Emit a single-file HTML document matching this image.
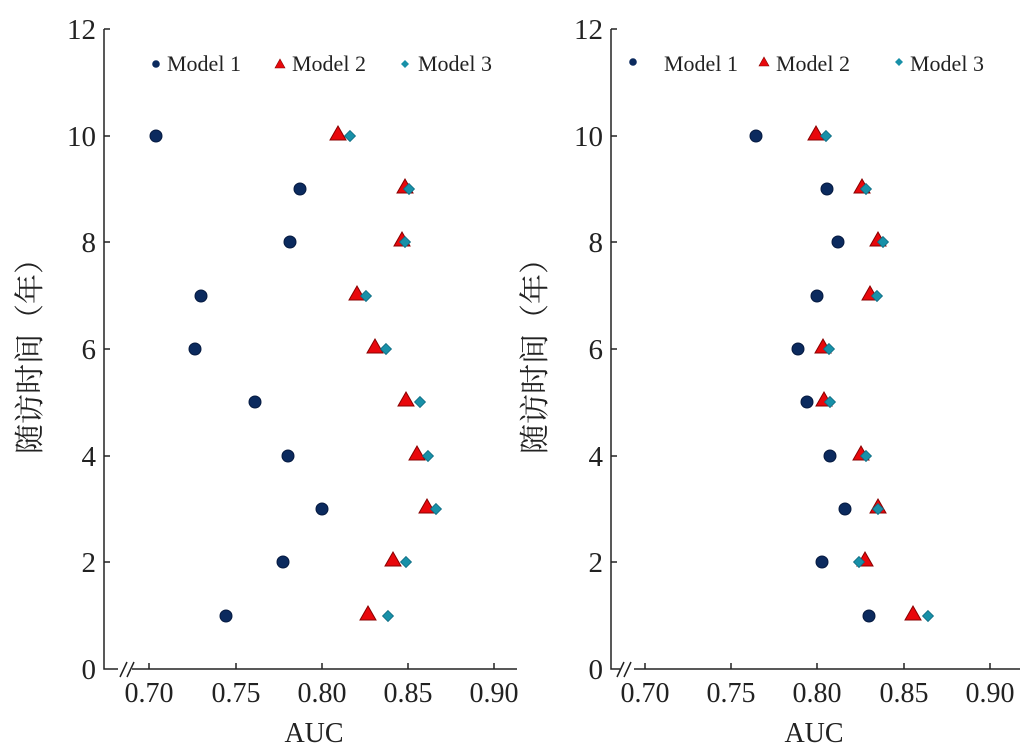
<!DOCTYPE html><html><head><meta charset="utf-8"><style>body{margin:0;background:#fff}svg{display:block}text{font-family:"Liberation Serif","Noto Serif CJK SC",serif;fill:#222}</style></head><body>
<svg width="1036" height="752" viewBox="0 0 1036 752">
<defs>
<g id="c"><circle r="6" fill="#0b2a5e" stroke="#061a40" stroke-width="1"/></g>
<g id="t"><polygon points="0,-8 8,6 -8,6" fill="#e8080c" stroke="#8a0000" stroke-width="1"/></g>
<g id="d"><polygon points="0,-5.5 5.5,0 0,5.5 -5.5,0" fill="#1890a8" stroke="#0e6a80" stroke-width="0.8"/></g>
<g id="cs"><circle r="3.8" fill="#0b2a5e"/></g>
<g id="ts"><polygon points="0,-5 5,4 -5,4" fill="#e8080c" stroke="#8a0000" stroke-width="0.6"/></g>
<g id="ds"><polygon points="0,-4 4,0 0,4 -4,0" fill="#1890a8"/></g>
</defs>
<g stroke="#222" stroke-width="1.5" fill="none">
<path d="M104,29 V669 H517"/>
<path d="M611,29 V669 H1020"/>
<path d="M104,29h6M104,136h6M104,242h6M104,349h6M104,456h6M104,562h6"/>
<path d="M611,29h6M611,136h6M611,242h6M611,349h6M611,456h6M611,562h6"/>
<path d="M149,669v-6M236,669v-6M322,669v-6M408,669v-6M494,669v-6"/>
<path d="M645,669v-6M731,669v-6M817,669v-6M904,669v-6M990,669v-6"/>
</g>
<g fill="#fff" stroke="none"><rect x="118" y="664" width="14" height="10"/><rect x="620" y="664" width="14" height="10"/></g>
<g stroke="#222" stroke-width="1.5"><path d="M120,677l7,-15M127,677l7,-15M617,677l7,-15M624,677l7,-15"/></g>
<g font-size="29" text-anchor="end">
<text x="96" y="39">12</text><text x="96" y="146">10</text><text x="96" y="252">8</text><text x="96" y="359">6</text><text x="96" y="466">4</text><text x="96" y="572">2</text><text x="96" y="679">0</text>
<text x="603" y="39">12</text><text x="603" y="146">10</text><text x="603" y="252">8</text><text x="603" y="359">6</text><text x="603" y="466">4</text><text x="603" y="572">2</text><text x="603" y="679">0</text>
</g>
<g font-size="28" text-anchor="middle">
<text x="149" y="702">0.70</text><text x="236" y="702">0.75</text><text x="322" y="702">0.80</text><text x="408" y="702">0.85</text><text x="494" y="702">0.90</text>
<text x="645" y="702">0.70</text><text x="731" y="702">0.75</text><text x="817" y="702">0.80</text><text x="904" y="702">0.85</text><text x="990" y="702">0.90</text>
<text x="314" y="742">AUC</text><text x="814" y="742">AUC</text>
</g>
<text font-size="30" text-anchor="middle" transform="translate(40,349) rotate(-90)">随访时间（年）</text>
<text font-size="30" text-anchor="middle" transform="translate(545,349) rotate(-90)">随访时间（年）</text>
<g font-size="22">
<use href="#cs" x="156" y="64"/><text x="167" y="71">Model 1</text>
<use href="#ts" x="280" y="64"/><text x="292" y="71">Model 2</text>
<use href="#ds" x="405" y="64"/><text x="418" y="71">Model 3</text>
<use href="#cs" x="633" y="62"/><text x="664" y="71">Model 1</text>
<use href="#ts" x="764" y="62"/><text x="776" y="71">Model 2</text>
<use href="#ds" x="899" y="62"/><text x="910" y="71">Model 3</text>
</g>
<g>
<use href="#c" x="156" y="136"/><use href="#t" x="338" y="134"/><use href="#d" x="350" y="136"/>
<use href="#c" x="300" y="189"/><use href="#t" x="405" y="187"/><use href="#d" x="409" y="189"/>
<use href="#c" x="290" y="242"/><use href="#t" x="402" y="240"/><use href="#d" x="405" y="242"/>
<use href="#c" x="201" y="296"/><use href="#t" x="357" y="294"/><use href="#d" x="366" y="296"/>
<use href="#c" x="195" y="349"/><use href="#t" x="375" y="347"/><use href="#d" x="386" y="349"/>
<use href="#c" x="255" y="402"/><use href="#t" x="406" y="400"/><use href="#d" x="420" y="402"/>
<use href="#c" x="288" y="456"/><use href="#t" x="417" y="454"/><use href="#d" x="428" y="456"/>
<use href="#c" x="322" y="509"/><use href="#t" x="427" y="507"/><use href="#d" x="436" y="509"/>
<use href="#c" x="283" y="562"/><use href="#t" x="393" y="560"/><use href="#d" x="406" y="562"/>
<use href="#c" x="226" y="616"/><use href="#t" x="368" y="614"/><use href="#d" x="388" y="616"/>

<use href="#c" x="756" y="136"/><use href="#t" x="816" y="134"/><use href="#d" x="826" y="136"/>
<use href="#c" x="827" y="189"/><use href="#t" x="862" y="187"/><use href="#d" x="866" y="189"/>
<use href="#c" x="838" y="242"/><use href="#t" x="878" y="240"/><use href="#d" x="883" y="242"/>
<use href="#c" x="817" y="296"/><use href="#t" x="870" y="294"/><use href="#d" x="877" y="296"/>
<use href="#c" x="798" y="349"/><use href="#t" x="823" y="347"/><use href="#d" x="829" y="349"/>
<use href="#c" x="807" y="402"/><use href="#t" x="824" y="400"/><use href="#d" x="830" y="402"/>
<use href="#c" x="830" y="456"/><use href="#t" x="861" y="454"/><use href="#d" x="866" y="456"/>
<use href="#c" x="845" y="509"/><use href="#t" x="878" y="507"/><use href="#d" x="878" y="509"/>
<use href="#c" x="822" y="562"/><use href="#t" x="865" y="560"/><use href="#d" x="859" y="562"/>
<use href="#c" x="869" y="616"/><use href="#t" x="913" y="614"/><use href="#d" x="928" y="616"/>
</g>
</svg>
</body></html>
